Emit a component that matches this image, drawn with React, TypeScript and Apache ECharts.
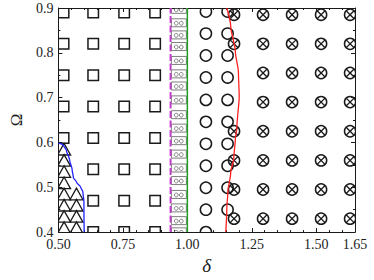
import React, { useEffect, useRef } from 'react';
import * as echarts from 'echarts';

// Axis ticks
const xTickValues = [0.5, 0.75, 1.0, 1.25, 1.5, 1.65];
const yTickValues = [0.4, 0.5, 0.6, 0.7, 0.8, 0.9];

// Square markers (columns of δ, rows of Ω)
const squareCols = [0.52, 0.635, 0.755, 0.875];
const squareRowsFirstCol = [0.61, 0.68, 0.75, 0.82, 0.89];
const squareRows = [0.4, 0.47, 0.54, 0.61, 0.68, 0.75, 0.82, 0.89];

// Triangle markers
const triCols = [0.522, 0.57];
const triRowsCol1 = [0.41, 0.435, 0.46, 0.485, 0.51, 0.535, 0.56, 0.585];
const triRowsCol2 = [0.41, 0.435, 0.46, 0.485];

// "oo" box markers
const ooCol = 0.967;
const ooRows = [0.4006, 0.4256, 0.454, 0.484, 0.515, 0.543, 0.574, 0.604, 0.632, 0.662, 0.695, 0.726, 0.753, 0.783, 0.814, 0.84, 0.867, 0.897];

// Open circle markers
const circleCols = [1.072, 1.156];
const circleRowsCol1 = [0.4, 0.45, 0.499, 0.548, 0.597, 0.646, 0.695, 0.745, 0.794, 0.843, 0.892];
const circleRowsCol2 = [0.45, 0.499, 0.548, 0.597, 0.646, 0.695, 0.745, 0.794, 0.843, 0.892];

// Crossed circle markers
const crossCols = [1.181, 1.2935, 1.406, 1.5185, 1.631];
const crossRowsFirstCol = [0.43, 0.495, 0.56, 0.625, 0.82, 0.885];
const crossRows = [0.43, 0.495, 0.56, 0.625, 0.69, 0.755, 0.82, 0.885];

// Boundary curves
const blueDelta = [0.5, 0.5185, 0.531, 0.5435, 0.553, 0.558, 0.5705, 0.5865, 0.595, 0.599, 0.599, 0.6];
const blueOmega = [0.5985, 0.595, 0.5825, 0.561, 0.54, 0.522, 0.511, 0.5, 0.4895, 0.4675, 0.4465, 0.4];
const redDelta = [1.153, 1.168, 1.186, 1.198, 1.201, 1.192, 1.186, 1.18, 1.168, 1.157, 1.153, 1.149];
const redOmega = [0.9, 0.86, 0.803, 0.757, 0.703, 0.633, 0.607, 0.565, 0.532, 0.489, 0.453, 0.4];
const purpleDelta = 0.935;
const greenDelta = 1.0;
const omegaRange = [0.4, 0.9];

const pts = (x: number, rows: number[]) => rows.map((o) => [x, o]);

const squares = [
  ...pts(squareCols[0], squareRowsFirstCol),
  ...pts(squareCols[1], squareRows),
  ...pts(squareCols[2], squareRows),
  ...pts(squareCols[3], squareRows),
];
const triangles = [...pts(triCols[0], triRowsCol1), ...pts(triCols[1], triRowsCol2)];
const oos = pts(ooCol, ooRows);
const circles = [...pts(circleCols[0], circleRowsCol1), ...pts(circleCols[1], circleRowsCol2)];
const crosses = [
  ...pts(crossCols[0], crossRowsFirstCol),
  ...crossCols.slice(1).flatMap((c) => pts(c, crossRows)),
];

const FONT = '"Liberation Serif", "DejaVu Serif", serif';
const INK = '#1a1a1a';
const GRAY = '#7f7f7f';

function markerSeries(name: string, data: number[][], kind: string) {
  return {
    type: 'custom',
    name,
    clip: true,
    z: 2,
    data,
    encode: { x: 0, y: 1 },
    itemStyle: { color: kind === 'oo' ? GRAY : INK },
    renderItem: (params: any, api: any) => {
      const p = api.coord([api.value(0), api.value(1)]);
      const cx = p[0];
      const cy = p[1];
      const st = { fill: 'none', stroke: INK, lineWidth: 1.5 };
      if (kind === 'square') {
        const s = 10.5;
        return { type: 'rect', shape: { x: cx - s / 2, y: cy - s / 2, width: s, height: s }, style: st };
      }
      if (kind === 'triangle') {
        return {
          type: 'polygon',
          shape: { points: [[cx - 6.5, cy + 5.8], [cx, cy - 5.8], [cx + 6.5, cy + 5.8]] },
          style: { fill: 'none', stroke: INK, lineWidth: 1.3 },
        };
      }
      if (kind === 'oo') {
        const gs = { fill: 'none', stroke: GRAY, lineWidth: 1 };
        return {
          type: 'group',
          children: [
            { type: 'rect', shape: { x: cx - 7.5, y: cy - 4, width: 15, height: 8 }, style: gs },
            { type: 'circle', shape: { cx: cx - 2.6, cy: cy + 0.5, r: 1.9 }, style: gs },
            { type: 'circle', shape: { cx: cx + 2.4, cy: cy + 0.5, r: 1.9 }, style: gs },
          ],
        };
      }
      if (kind === 'circle') {
        return { type: 'circle', shape: { cx, cy, r: 5.6 }, style: st };
      }
      const r = 5.6;
      const d = r * 0.707;
      return {
        type: 'group',
        children: [
          { type: 'circle', shape: { cx, cy, r }, style: st },
          { type: 'line', shape: { x1: cx - d, y1: cy - d, x2: cx + d, y2: cy + d }, style: { stroke: INK, lineWidth: 1.3 } },
          { type: 'line', shape: { x1: cx - d, y1: cy + d, x2: cx + d, y2: cy - d }, style: { stroke: INK, lineWidth: 1.3 } },
        ],
      };
    },
  };
}

function lineSeries(xs: number[], ys: number[], color: string, width: number, type: any, smooth: any) {
  return {
    type: 'line',
    z: 3,
    data: xs.map((x, i) => [x, ys[i]]),
    symbol: 'none',
    smooth,
    smoothMonotone: 'y',
    clip: true,
    lineStyle: { color, width, type },
  };
}

export default function App() {
  const ref = useRef<HTMLDivElement>(null);
  useEffect(() => {
    if (!ref.current) return;
    const chart = echarts.init(ref.current, null, { renderer: 'svg' });
    const axisLine = { show: true, onZero: false, lineStyle: { color: INK, width: 1 } };
    const baseX = {
      type: 'value',
      min: xTickValues[0],
      max: xTickValues[xTickValues.length - 1],
      interval: 0.25,
      axisLine,
      splitLine: { show: false },
      axisTick: { show: true, inside: true, length: 4, lineStyle: { color: INK } },
      minorTick: { show: true, splitNumber: 5, length: 2, lineStyle: { color: INK } },
    };
    const baseY = {
      type: 'value',
      min: yTickValues[0],
      max: yTickValues[yTickValues.length - 1],
      interval: 0.1,
      axisLine,
      splitLine: { show: false },
      axisTick: { show: true, inside: true, length: 4, lineStyle: { color: INK } },
      minorTick: { show: true, splitNumber: 2, length: 2, lineStyle: { color: INK } },
    };
    chart.setOption({
      animation: false,
      backgroundColor: '#ffffff',
      grid: { left: 45, right: 19, top: 8, bottom: 38, containLabel: false },
      xAxis: [
        {
          ...baseX,
          position: 'bottom',
          axisLabel: {
            show: true,
            margin: 5,
            fontFamily: FONT,
            fontSize: 14,
            color: '#222',
            showMaxLabel: true,
            showMinLabel: true,
            formatter: (v: number) => v.toFixed(2),
          },
          name: 'δ',
          nameLocation: 'middle',
          nameGap: 20,
          nameTextStyle: { fontFamily: FONT, fontSize: 19, fontStyle: 'italic', color: '#222' },
        },
        { ...baseX, position: 'top', axisLabel: { show: false } },
      ],
      yAxis: [
        {
          ...baseY,
          position: 'left',
          axisLabel: {
            show: true,
            margin: 5,
            fontFamily: FONT,
            fontSize: 14,
            color: '#222',
            formatter: (v: number) => v.toFixed(1),
          },
          name: 'Ω',
          nameLocation: 'middle',
          nameGap: 26,
          nameTextStyle: { fontFamily: FONT, fontSize: 17, color: '#222' },
        },
        { ...baseY, position: 'right', axisLabel: { show: false } },
      ],
      series: [
        markerSeries('triangles', triangles, 'triangle'),
        markerSeries('squares', squares, 'square'),
        markerSeries('oo', oos, 'oo'),
        markerSeries('circles', circles, 'circle'),
        markerSeries('crosses', crosses, 'cross'),
        lineSeries(blueDelta, blueOmega, '#2020ff', 1.3, 'solid', 0.25),
        lineSeries(redDelta, redOmega, '#ff2020', 1.3, 'solid', 0.25),
        lineSeries([purpleDelta, purpleDelta], omegaRange, '#c040c8', 2, [7, 2.5], false),
        lineSeries([greenDelta, greenDelta], omegaRange, '#20a020', 1.5, 'solid', false),
      ],
    });
    return () => chart.dispose();
  }, []);
  return <div ref={ref} style={{ position: 'absolute', left: 0, top: 0, width: 374, height: 280 }} />;
}
